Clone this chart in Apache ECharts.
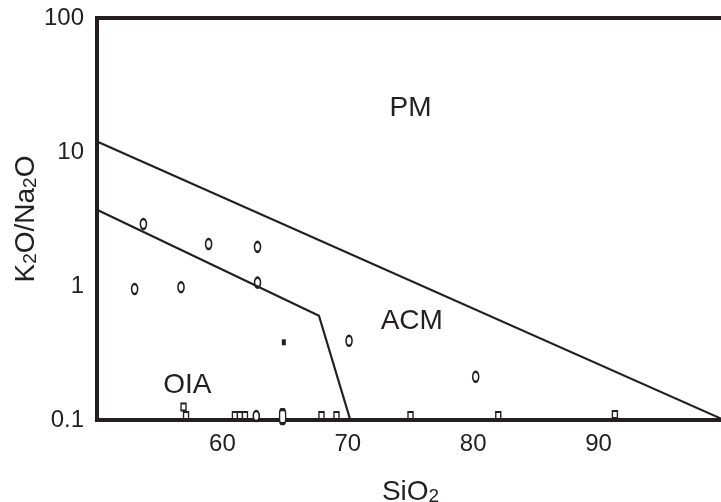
<!DOCTYPE html>
<html>
<head>
<meta charset="utf-8">
<script src="https://cdn.jsdelivr.net/npm/echarts@6/dist/echarts.min.js"></script>
<style>
html,body{margin:0;padding:0;background:#fff;}
#chart{width:721px;height:502px;}
</style>
</head>
<body>
<div id="chart"></div>
<script>
// ---- data ----
var xTickLabels = ['60', '70', '80', '90'];
var yTickLabels = ['0.1', '1', '10', '100'];

// boundary lines (SiO2, K2O/Na2O)
var upperBoundary = [[50, 12], [100, 0.1]];
var lowerBoundary = [[50, 3.7], [67.7, 0.6], [70.2, 0.1]];

// samples plotted as open circles
var circleSamples = [
  [53.0, 0.95], [53.7, 2.9], [56.7, 0.98], [58.9, 2.06], [62.8, 1.96],
  [62.8, 1.06], [70.1, 0.39], [80.2, 0.21], [62.7, 0.107]
];
var tallCircleSamples = [[64.8, 0.106]];
// samples plotted as open squares
var squareSamples = [
  [56.9, 0.125], [57.1, 0.108], [61.0, 0.108], [61.4, 0.108], [61.8, 0.108],
  [67.9, 0.108], [69.1, 0.108], [75.0, 0.108], [82.0, 0.108], [91.3, 0.11]
];
// filled square sample
var filledSamples = [[64.9, 0.38]];

// field labels
var fieldLabels = [
  { name: 'PM', value: [75.0, 21.3] },
  { name: 'ACM', value: [75.1, 0.548] },
  { name: 'OIA', value: [57.2, 0.182] }
];

var ink = '#231f20';
var chart = echarts.init(document.getElementById('chart'), null, { renderer: 'canvas' });
chart.setOption({
  animation: false,
  backgroundColor: '#ffffff',
  grid: {
    left: 97, top: 18, bottom: 82, right: -3,
    containLabel: false, outerBoundsMode: 'none',
    show: true, borderColor: ink, borderWidth: 4, backgroundColor: 'transparent'
  },
  xAxis: {
    type: 'value', min: 50, max: 100, interval: 10,
    axisLine: { show: false },
    axisTick: { show: false },
    splitLine: { show: false },
    axisLabel: {
      margin: 12, color: ink, fontFamily: 'Liberation Sans', fontSize: 24,
      formatter: function (v) {
        var s = String(v);
        return xTickLabels.indexOf(s) >= 0 ? s : '';
      }
    },
    name: '{a|SiO}{b|2}',
    nameLocation: 'middle',
    nameGap: 58,
    nameTextStyle: {
      rich: {
        a: { fontFamily: 'Liberation Sans', fontSize: 28, color: ink, verticalAlign: 'bottom' },
        b: { fontFamily: 'Liberation Sans', fontSize: 19, color: ink, verticalAlign: 'bottom' }
      }
    }
  },
  yAxis: {
    type: 'log', logBase: 10, min: 0.1, max: 100,
    axisLine: { show: false },
    axisTick: { show: false },
    splitLine: { show: false },
    axisLabel: {
      margin: 13, color: ink, fontFamily: 'Liberation Sans', fontSize: 24,
      formatter: function (v) {
        var s = String(+v.toPrecision(3));
        return yTickLabels.indexOf(s) >= 0 ? s : '';
      }
    },
    name: '{a|K}{b|2}{a|O/Na}{b|2}{a|O}',
    nameLocation: 'middle',
    nameGap: 57,
    nameMoveOverlap: false,
    nameTextStyle: {
      rich: {
        a: { fontFamily: 'Liberation Sans', fontSize: 28, color: ink, verticalAlign: 'bottom' },
        b: { fontFamily: 'Liberation Sans', fontSize: 19, color: ink, verticalAlign: 'bottom' }
      }
    }
  },
  series: [
    {
      type: 'line', data: upperBoundary, symbol: 'none', silent: true,
      lineStyle: { color: ink, width: 2.2 }
    },
    {
      type: 'line', data: lowerBoundary, symbol: 'none', silent: true,
      lineStyle: { color: ink, width: 2.2 }
    },
    {
      type: 'scatter', data: circleSamples, symbol: 'circle', symbolSize: [6, 10],
      itemStyle: { color: '#ffffff', borderColor: ink, borderWidth: 2, opacity: 1 }
    },
    {
      type: 'scatter', data: tallCircleSamples, symbol: 'roundRect', symbolSize: [6, 14],
      itemStyle: { color: '#ffffff', borderColor: ink, borderWidth: 2, opacity: 1 }
    },
    {
      type: 'scatter', data: squareSamples, symbol: 'rect', symbolSize: [5, 7],
      itemStyle: { color: '#ffffff', borderColor: ink, borderWidth: 1.6, opacity: 1 }
    },
    {
      type: 'scatter', data: filledSamples, symbol: 'rect', symbolSize: [4, 6],
      itemStyle: { color: ink, opacity: 1 }
    },
    {
      type: 'scatter', data: fieldLabels, symbolSize: 0, silent: true,
      itemStyle: { opacity: 1 },
      label: {
        show: true, position: 'inside', formatter: '{b}',
        color: ink, fontFamily: 'Liberation Sans', fontSize: 28, opacity: 1
      }
    }
  ]
});
</script>
</body>
</html>
